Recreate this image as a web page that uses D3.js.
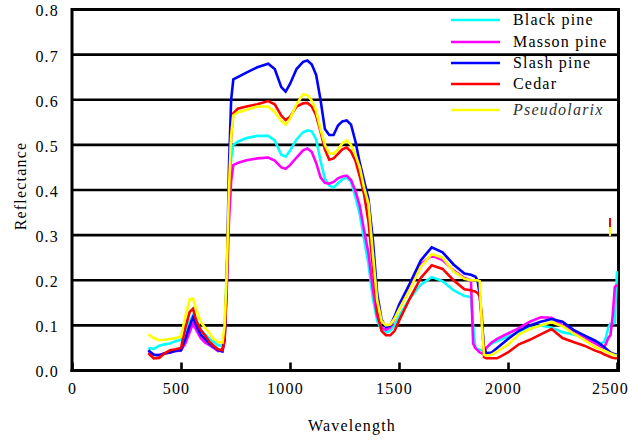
<!DOCTYPE html>
<html>
<head>
<meta charset="utf-8">
<script src="https://cdn.jsdelivr.net/npm/d3@7"></script>
<style>
  html, body { margin: 0; padding: 0; background: #fff; }
  svg { display: block; }
  svg text { font-family: "Liberation Serif", Tinos, "Times New Roman", Times, "DejaVu Serif", serif !important; font-size: 16px; fill: #000; letter-spacing: 1.2px; }
</style>
</head>
<body>
<svg id="chart" width="629" height="441"></svg>
<script>
// ---------------- data ----------------
const wavelengths = [
  350,375,400,425,450,475,500,520,540,555,570,590,610,630,650,670,690,
  700,710,720,730,740,760,800,850,900,930,960,980,1000,
  1030,1060,1080,1100,1120,1140,1160,1180,1200,1220,1240,1260,1280,1300,1320,
  1340,1360,1380,1400,1420,1440,1460,1480,1500,1550,1600,1650,1700,1750,1800,
  1830,1840,1850,1860,1870,1880,1890,1900,1925,1950,2000,2050,2100,2150,2200,
  2250,2300,2350,2400,2425,2440,2450,2460,2470,2480,2490,2500
];
const blackPine = [
  0.05,0.048,0.055,0.058,0.06,0.065,0.068,0.085,0.11,0.122,0.112,0.09,0.08,0.07,0.063,0.056,0.055,
  0.09,0.22,0.38,0.47,0.5,0.507,0.515,0.52,0.52,0.51,0.478,0.474,0.487,
  0.512,0.528,0.532,0.53,0.512,0.465,0.425,0.41,0.405,0.415,0.423,0.428,0.418,0.385,0.345,
  0.29,0.235,0.16,0.11,0.09,0.084,0.088,0.1,0.12,0.16,0.19,0.207,0.198,0.178,0.165,
  0.163,0.1,0.052,0.047,0.046,0.045,0.047,0.05,0.06,0.065,0.075,0.085,0.093,0.1,0.095,
  0.085,0.08,0.073,0.065,0.06,0.063,0.075,0.095,0.104,0.104,0.105,0.22
];
const massonPine = [
  0.04,0.035,0.034,0.038,0.04,0.043,0.045,0.06,0.085,0.104,0.09,0.072,0.062,0.056,0.05,0.043,0.045,
  0.07,0.18,0.33,0.42,0.455,0.46,0.466,0.47,0.472,0.465,0.45,0.447,0.455,
  0.472,0.488,0.492,0.484,0.46,0.428,0.416,0.414,0.418,0.426,0.43,0.432,0.422,0.398,0.365,
  0.31,0.26,0.18,0.12,0.095,0.09,0.095,0.115,0.14,0.19,0.235,0.255,0.245,0.222,0.205,
  0.2,0.06,0.05,0.045,0.04,0.038,0.04,0.05,0.062,0.07,0.082,0.094,0.108,0.118,0.117,
  0.1,0.085,0.072,0.06,0.053,0.05,0.06,0.072,0.078,0.12,0.185,0.19
];
const slashPine = [
  0.045,0.035,0.034,0.038,0.04,0.044,0.045,0.07,0.1,0.118,0.1,0.08,0.07,0.06,0.052,0.045,0.042,
  0.07,0.2,0.45,0.6,0.645,0.65,0.66,0.672,0.68,0.668,0.628,0.618,0.635,
  0.668,0.684,0.687,0.678,0.655,0.6,0.535,0.522,0.522,0.543,0.552,0.554,0.545,0.508,0.46,
  0.42,0.38,0.29,0.17,0.113,0.096,0.1,0.12,0.145,0.193,0.244,0.273,0.262,0.235,0.215,
  0.212,0.21,0.208,0.2,0.17,0.11,0.05,0.038,0.04,0.05,0.07,0.088,0.1,0.108,0.114,
  0.108,0.09,0.078,0.066,0.058,0.052,0.048,0.044,0.04,0.038,0.036,0.035
];
const cedar = [
  0.038,0.027,0.028,0.038,0.045,0.047,0.05,0.095,0.13,0.137,0.11,0.09,0.078,0.064,0.055,0.047,0.045,
  0.065,0.2,0.39,0.52,0.57,0.58,0.585,0.59,0.597,0.59,0.565,0.555,0.562,
  0.585,0.592,0.593,0.585,0.565,0.53,0.49,0.467,0.47,0.48,0.49,0.494,0.485,0.465,0.43,
  0.39,0.33,0.23,0.13,0.088,0.078,0.078,0.088,0.11,0.16,0.205,0.233,0.225,0.2,0.18,
  0.178,0.176,0.175,0.172,0.165,0.12,0.03,0.027,0.027,0.027,0.04,0.058,0.068,0.08,0.092,
  0.072,0.063,0.055,0.044,0.04,0.036,0.034,0.032,0.03,0.028,0.027,0.027
];
const pseudolarix = [
  0.08,0.072,0.067,0.068,0.07,0.072,0.075,0.12,0.158,0.16,0.135,0.108,0.095,0.083,0.07,0.063,0.062,
  0.1,0.22,0.4,0.52,0.565,0.572,0.578,0.585,0.585,0.573,0.553,0.545,0.558,
  0.59,0.612,0.61,0.598,0.575,0.535,0.5,0.482,0.48,0.49,0.503,0.51,0.5,0.478,0.45,
  0.405,0.37,0.26,0.155,0.11,0.1,0.102,0.115,0.135,0.18,0.23,0.258,0.25,0.22,0.203,
  0.2,0.2,0.2,0.2,0.198,0.1,0.035,0.033,0.035,0.042,0.057,0.08,0.092,0.1,0.107,
  0.098,0.082,0.068,0.052,0.047,0.044,0.042,0.04,0.038,0.036,0.034,0.033
];
// small isolated fragments near 2468 nm
const spikeWavelength = 2468;
const cedarSpike = [0.338, 0.318];
const pseudolarixSpike = [0.318, 0.298];

const seriesNames = ["Black pine", "Masson pine", "Slash pine", "Cedar", "Pseudolarix"];
const seriesColors = ["#00FFFF", "#FF00FF", "#0000FF", "#FF0000", "#FFFF00"];
const seriesValues = [blackPine, massonPine, slashPine, cedar, pseudolarix];

const xTicks = [0, 500, 1000, 1500, 2000, 2500];
const yTicks = [0.0, 0.1, 0.2, 0.3, 0.4, 0.5, 0.6, 0.7, 0.8];

(function draw() {
  const svg = d3.select("#chart");
  const pL = 72, pR = 618.5, pT = 9.5, pB = 370.5;
  const x = d3.scaleLinear().domain([0, 2500]).range([pL, 617]);
  const y = d3.scaleLinear().domain([0, 0.8]).range([pB, pT]);
  const xMax = x.invert(pR);

  // gridlines
  svg.append("g").selectAll("line")
    .data(yTicks.filter(v => v > 0 && v < 0.8))
    .join("line")
    .attr("x1", x(0)).attr("x2", x(xMax))
    .attr("y1", d => y(d)).attr("y2", d => y(d))
    .attr("stroke", "#000").attr("stroke-width", 2.6);

  // frame: top and right
  svg.append("line").attr("x1", x(0)).attr("x2", x(xMax)).attr("y1", y(0.8)).attr("y2", y(0.8))
    .attr("stroke", "#000").attr("stroke-width", 3);
  svg.append("line").attr("x1", x(xMax)).attr("x2", x(xMax)).attr("y1", y(0.8) - 1.5).attr("y2", y(0) + 1.5)
    .attr("stroke", "#000").attr("stroke-width", 3);

  // series
  const line = d3.line().x(d => x(d[0])).y(d => y(d[1]));
  const plot = svg.append("g");
  seriesValues.forEach((vals, i) => {
    plot.append("path")
      .datum(wavelengths.map((w, j) => [w, vals[j]]))
      .attr("d", line)
      .attr("fill", "none")
      .attr("stroke", seriesColors[i])
      .attr("stroke-width", 2.6)
      .attr("stroke-linejoin", "miter");
  });
  [[cedarSpike, seriesColors[3]], [pseudolarixSpike, seriesColors[4]]].forEach(([vals, c]) => {
    plot.append("path")
      .datum(vals.map(v => [spikeWavelength, v]))
      .attr("d", line)
      .attr("fill", "none").attr("stroke", c).attr("stroke-width", 2);
  });

  // x axis
  const xAxis = svg.append("g").attr("transform", `translate(0,${pB})`)
    .call(d3.axisBottom(x).tickValues(xTicks).tickSize(-8).tickPadding(12).tickFormat(d3.format("d")));
  xAxis.attr("font-family", null).attr("font-size", null);
  xAxis.select(".domain").remove();
  xAxis.selectAll(".tick line").attr("stroke", "#000").attr("stroke-width", 2.6);
  xAxis.selectAll(".tick text")
    .attr("dx", d => d === 0 ? 0 : (d === 2500 ? -7 : -5));

  // y axis labels
  const yAxis = svg.append("g").attr("transform", `translate(${pL},0)`)
    .call(d3.axisLeft(y).tickValues(yTicks).tickSize(0).tickPadding(13).tickFormat(d3.format(".1f")));
  yAxis.attr("font-family", null).attr("font-size", null);
  yAxis.select(".domain").remove();
  yAxis.selectAll(".tick text").attr("dy", "0.4em");

  // main axes lines
  svg.append("line").attr("x1", pL).attr("x2", pL).attr("y1", pT - 1.5).attr("y2", pB + 1.5)
    .attr("stroke", "#000").attr("stroke-width", 3);
  svg.append("line").attr("x1", pL - 1.5).attr("x2", pR + 1.5).attr("y1", pB).attr("y2", pB)
    .attr("stroke", "#000").attr("stroke-width", 3);

  // titles
  svg.append("text").attr("x", 352).attr("y", 431).attr("text-anchor", "middle").text("Wavelength");
  svg.append("text").attr("transform", "translate(26,186) rotate(-90)").attr("text-anchor", "middle").text("Reflectance");

  // legend
  const legendRowY = [20, 42, 63, 84, 110];
  const lg = svg.append("g");
  seriesNames.forEach((name, i) => {
    lg.append("line").attr("x1", 451).attr("x2", 500)
      .attr("y1", legendRowY[i]).attr("y2", legendRowY[i])
      .attr("stroke", seriesColors[i]).attr("stroke-width", 2.6);
    const t = lg.append("text").attr("x", 513).attr("y", legendRowY[i] + 5).text(name);
    if (name === "Pseudolarix") t.style("font-style", "italic").style("fill", "#333");
  });
})();
</script>
</body>
</html>
